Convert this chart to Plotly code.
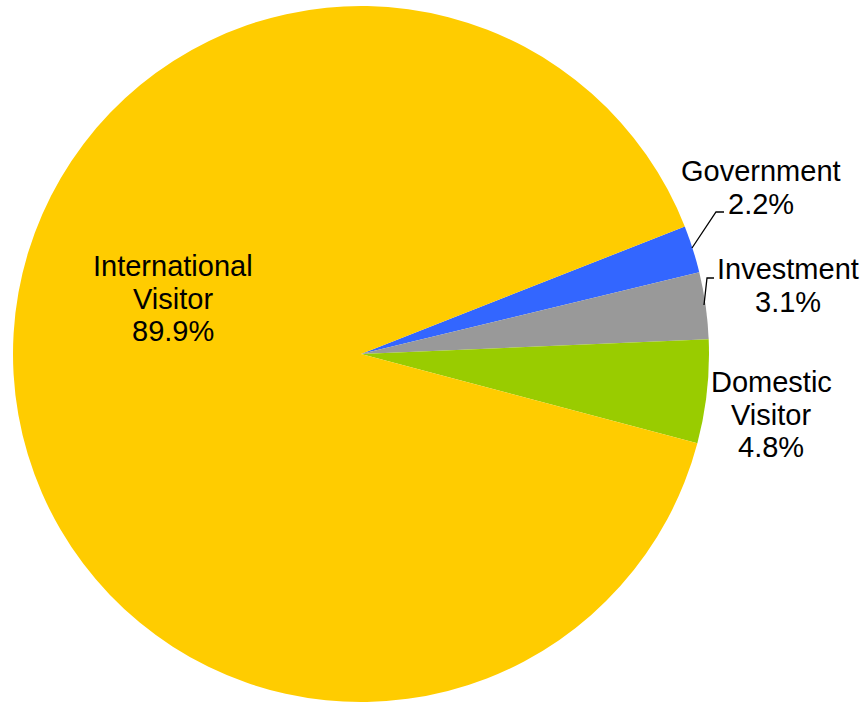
import plotly.graph_objects as go

labels = ["Government", "Investment", "Domestic Visitor", "International Visitor"]
values = [2.2, 3.1, 4.8, 89.9]
colors = ["#3366FF", "#999999", "#99CC00", "#FFCC00"]

# label line layout (pixel centres of each text block's first line)
label_pos = {
    "Government": (761, 171),
    "Investment": (788, 269),
    "Domestic Visitor": (771, 382),
    "International Visitor": (173, 266),
}
line_gap = 32.5
W, H = 863, 702

fig = go.Figure()
fig.add_trace(go.Pie(
    labels=labels, values=values, sort=False, direction="clockwise",
    rotation=68.5, textinfo="none", hoverinfo="label+percent",
    marker=dict(colors=colors, line=dict(width=0)),
    domain=dict(x=[0, 722 / W], y=[0, 1 - 6 / H]),
    showlegend=False,
))

anns = []
for lab, val in zip(labels, values):
    words = lab.split(" ")
    if lab == "Government" or lab == "Investment":
        lines = [lab]
    else:
        lines = words
    lines = lines + [f"{val:.1f}%"]
    cx, cy = label_pos[lab]
    for i, ln in enumerate(lines):
        anns.append(dict(
            x=cx / W, y=1 - (cy + i * line_gap) / H, xref="paper", yref="paper",
            text=ln, showarrow=False, xanchor="center", yanchor="middle",
            font=dict(family="Liberation Sans, Arial", size=29, color="#000000"),
        ))

def P(px, py):
    return px / W, 1 - py / H

shapes = []
leaders = [[(692, 248), (716, 212), (724, 212)],
           [(704, 305), (707, 278), (714, 278)]]
for pts in leaders:
    path = "M " + " L ".join(f"{P(x, y)[0]},{P(x, y)[1]}" for x, y in pts)
    shapes.append(dict(type="path", xref="paper", yref="paper", path=path,
                       line=dict(color="#000000", width=1.3)))

fig.update_layout(
    width=W, height=H, margin=dict(l=0, r=0, t=0, b=0),
    paper_bgcolor="white", plot_bgcolor="white",
    annotations=anns, shapes=shapes,
)
fig.write_html("out.html")
